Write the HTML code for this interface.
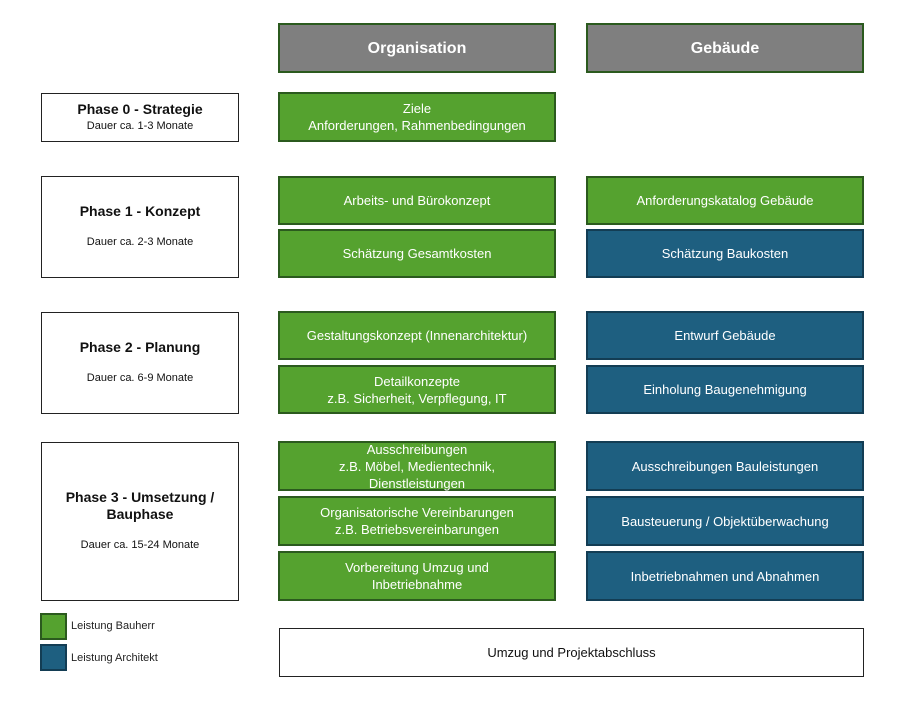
<!DOCTYPE html>
<html><head><meta charset="utf-8"><style>
body{margin:0;width:905px;height:720px;background:#fff;position:relative;font-family:"Liberation Sans",sans-serif;overflow:hidden}
.b{position:absolute;box-sizing:border-box;display:flex;align-items:center;justify-content:center;text-align:center;font-size:13px;line-height:17px;color:#fff}
.g{background:#55a22f;border:2px solid #2b5a1e}
.u{background:#1e5f80;border:2px solid #133d54}
.h{background:#7f7f7f;border:2px solid #2b5a1e;font-weight:bold;font-size:16px}
.w{background:#fff;border:1px solid #222;color:#111;flex-direction:column}
.w b{font-size:14px;line-height:17px}
.w span{font-size:11px}
.lg{position:absolute;font-size:11px;color:#222}
</style></head><body>
<div class="b h" style="left:278px;top:23px;width:278px;height:50px">Organisation</div>
<div class="b h" style="left:586px;top:23px;width:278px;height:50px">Gebäude</div>

<div class="b w" style="left:41px;top:93px;width:198px;height:49px"><b>Phase 0 - Strategie</b><span>Dauer ca. 1-3 Monate</span></div>
<div class="b g" style="left:278px;top:92px;width:278px;height:50px">Ziele<br>Anforderungen, Rahmenbedingungen</div>

<div class="b w" style="left:41px;top:176px;width:198px;height:102px"><b>Phase 1 - Konzept</b><span style="margin-top:14px">Dauer ca. 2-3 Monate</span></div>
<div class="b g" style="left:278px;top:176px;width:278px;height:49px">Arbeits- und Bürokonzept</div>
<div class="b g" style="left:278px;top:229px;width:278px;height:49px">Schätzung Gesamtkosten</div>
<div class="b g" style="left:586px;top:176px;width:278px;height:49px">Anforderungskatalog Gebäude</div>
<div class="b u" style="left:586px;top:229px;width:278px;height:49px">Schätzung Baukosten</div>

<div class="b w" style="left:41px;top:312px;width:198px;height:102px"><b>Phase 2 - Planung</b><span style="margin-top:14px">Dauer ca. 6-9 Monate</span></div>
<div class="b g" style="left:278px;top:311px;width:278px;height:49px">Gestaltungskonzept (Innenarchitektur)</div>
<div class="b g" style="left:278px;top:365px;width:278px;height:49px">Detailkonzepte<br>z.B. Sicherheit, Verpflegung, IT</div>
<div class="b u" style="left:586px;top:311px;width:278px;height:49px">Entwurf Gebäude</div>
<div class="b u" style="left:586px;top:365px;width:278px;height:49px">Einholung Baugenehmigung</div>

<div class="b w" style="left:41px;top:442px;width:198px;height:159px"><b>Phase 3 - Umsetzung /<br>Bauphase</b><span style="margin-top:14px">Dauer ca. 15-24 Monate</span></div>
<div class="b g" style="left:278px;top:441px;width:278px;height:50px">Ausschreibungen<br>z.B. Möbel, Medientechnik,<br>Dienstleistungen</div>
<div class="b g" style="left:278px;top:496px;width:278px;height:50px">Organisatorische Vereinbarungen<br>z.B. Betriebsvereinbarungen</div>
<div class="b g" style="left:278px;top:551px;width:278px;height:50px">Vorbereitung Umzug und<br>Inbetriebnahme</div>
<div class="b u" style="left:586px;top:441px;width:278px;height:50px">Ausschreibungen Bauleistungen</div>
<div class="b u" style="left:586px;top:496px;width:278px;height:50px">Bausteuerung / Objektüberwachung</div>
<div class="b u" style="left:586px;top:551px;width:278px;height:50px">Inbetriebnahmen und Abnahmen</div>

<div class="b g" style="left:40px;top:613px;width:27px;height:27px"></div>
<div class="lg" style="left:71px;top:620px">Leistung Bauherr</div>
<div class="b u" style="left:40px;top:644px;width:27px;height:27px"></div>
<div class="lg" style="left:71px;top:652px">Leistung Architekt</div>

<div class="b w" style="left:279px;top:628px;width:585px;height:49px;font-size:13px">Umzug und Projektabschluss</div>
</body></html>
